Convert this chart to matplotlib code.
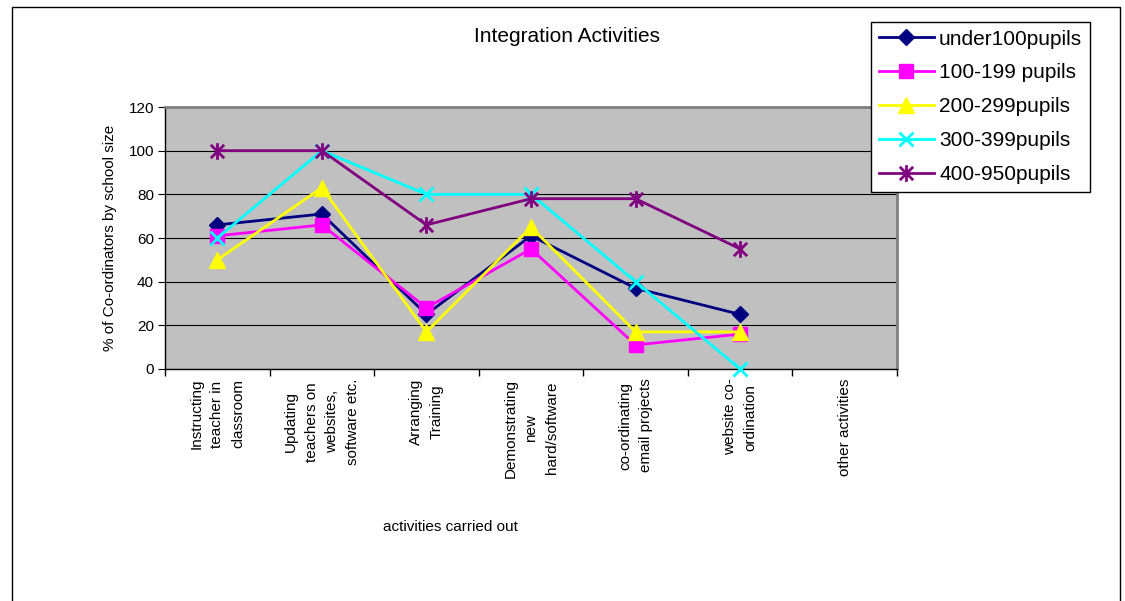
import matplotlib
matplotlib.use("Agg")
import matplotlib.pyplot as plt
from matplotlib.lines import Line2D
from matplotlib.path import Path

plt.rcParams['font.family'] = ['Liberation Sans', 'DejaVu Sans']

# Activities on the x axis (last one has no responses)
activities = [
    'Instructing\nteacher in\nclassroom',
    'Updating\nteachers on\nwebsites,\nsoftware etc.',
    'Arranging\nTraining',
    'Demonstrating\nnew\nhard/software',
    'co-ordinating\nemail projects',
    'website co-\nordination',
    'other activities',
]

# % of co-ordinators per school size band, one value per activity
under100 = [66, 71, 25, 61, 37, 25]
pupils_100_199 = [61, 66, 28, 55, 11, 16]
pupils_200_299 = [50, 83, 17, 65, 17, 17]
pupils_300_399 = [60, 100, 80, 80, 40, 0]
pupils_400_950 = [100, 100, 66, 78, 78, 55]

series_names = ['under100pupils', '100-199 pupils', '200-299pupils',
                '300-399pupils', '400-950pupils']
series_values = [under100, pupils_100_199, pupils_200_299,
                 pupils_300_399, pupils_400_950]

# Excel-style asterisk marker: an x with a vertical bar through it
star_path = Path(
    [(-0.8, -0.8), (0.8, 0.8), (-0.8, 0.8), (0.8, -0.8), (0, -1), (0, 1)],
    [Path.MOVETO, Path.LINETO, Path.MOVETO, Path.LINETO, Path.MOVETO, Path.LINETO],
)

styles = [
    dict(color='#000080', marker='D', ms=8),
    dict(color='#FF00FF', marker='s', ms=10),
    dict(color='#FFFF00', marker='^', ms=11),
    dict(color='#00FFFF', marker='x', ms=10, mew=2),
    dict(color='#800080', marker=star_path, ms=12, mew=2),
]

fig = plt.figure(figsize=(11.25, 6.01), dpi=100)
ax = fig.add_axes([165 / 1125, 1 - 369 / 601, 732 / 1125, 262 / 601])
ax.set_facecolor('#C0C0C0')

handles = []
for name, vals, st in zip(series_names, series_values, styles):
    xs = list(range(len(vals)))
    h, = ax.plot(xs, vals, color=st['color'], lw=2, marker=st['marker'],
                 ms=st['ms'], mew=st.get('mew', 1), mec=st['color'],
                 mfc=st['color'], label=name, clip_on=False, zorder=3)
    handles.append(h)

ax.set_xlim(-0.5, len(activities) - 0.5)
ax.set_ylim(0, 120)
ax.set_yticks(range(0, 121, 20))
ax.yaxis.grid(True, color='black', lw=0.8)
ax.set_axisbelow(True)

# tick marks between categories, labels at category centres
ax.set_xticks([i - 0.5 for i in range(len(activities) + 1)])
ax.set_xticklabels([])
ax.set_xticks(range(len(activities)), minor=True)
ax.set_xticklabels(activities, minor=True, rotation=90, ha='center', va='top',
                   multialignment='center', linespacing=1.6, fontsize=11)
ax.tick_params(axis='x', which='major', length=5, direction='out', width=1)
ax.tick_params(axis='x', which='minor', length=0, pad=7)
ax.tick_params(axis='y', length=5, direction='out', labelsize=11, pad=3)

for side in ('top', 'right'):
    ax.spines[side].set_color('#808080')
    ax.spines[side].set_linewidth(2)
for side in ('left', 'bottom'):
    ax.spines[side].set_color('black')
    ax.spines[side].set_linewidth(1)

ax.set_ylabel('% of Co-ordinators by school size', fontsize=11)
ax.yaxis.set_label_coords(-0.066, 0.5)

fig.text(567 / 1125, 1 - 37 / 601, 'Integration Activities', fontsize=15,
         ha='center', va='center')
fig.text(450 / 1125, 1 - 527 / 601, 'activities carried out', fontsize=11,
         ha='center', va='center')

leg = fig.legend(handles=handles, loc='upper left',
                 bbox_to_anchor=(871 / 1125, 1 - 22 / 601),
                 bbox_transform=fig.transFigure, borderaxespad=0,
                 fontsize=15, frameon=True, fancybox=False,
                 edgecolor='black', framealpha=1, handlelength=2.65,
                 handletextpad=0.25, labelspacing=0.71, borderpad=0.37)
leg.get_frame().set_linewidth(1)

# outer chart border
x0, x1, ytop = 12 / 1125, 1120 / 1125, 1 - 7 / 601
fig.add_artist(Line2D([x0, x0, x1, x1], [-0.1, ytop, ytop, -0.1],
                      color='black', lw=1, transform=fig.transFigure))

fig.savefig('out.png', dpi=100)
